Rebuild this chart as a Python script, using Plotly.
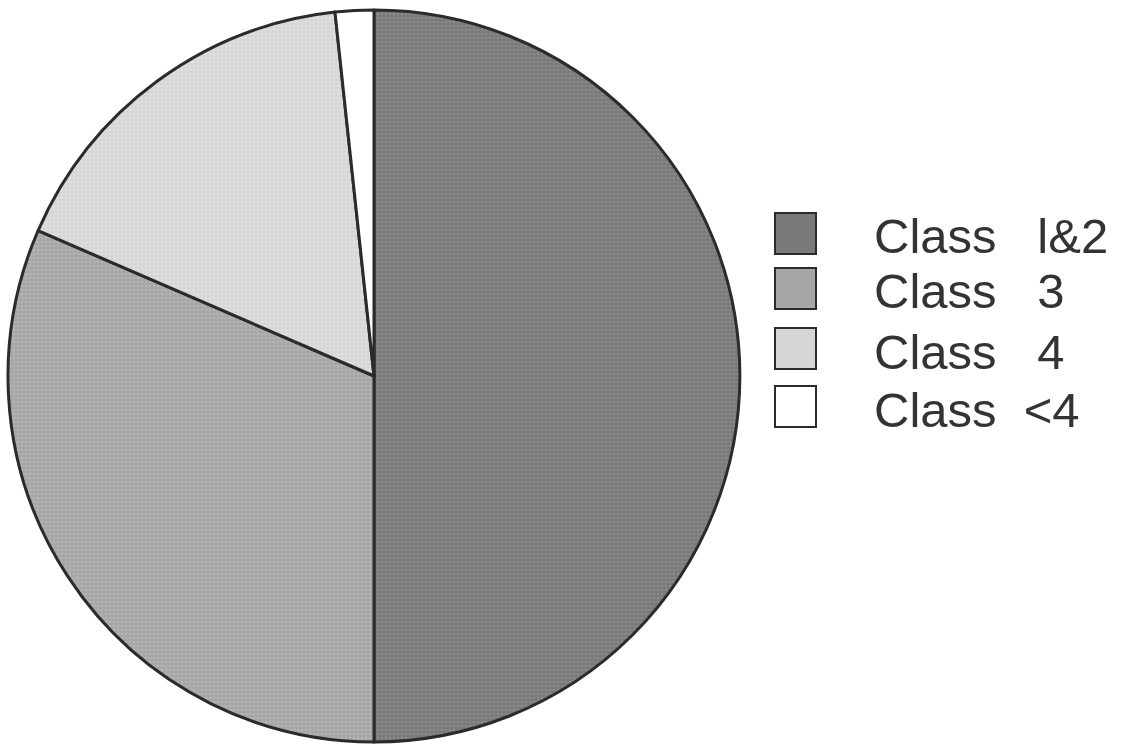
import plotly.graph_objects as go

# Share of each class (percent of total)
classes = ["Class\u00a0\u00a0\u00a0l&2", "Class\u00a0\u00a0\u00a03", "Class\u00a0\u00a0\u00a04", "Class\u00a0\u00a0<4"]
shares = [50.0, 31.5, 16.8, 1.7]

# Halftone-like fills: base gray plus a dot overlay
fill_colors = ["#7a7a7a", "#a6a6a6", "#d6d6d6", "#ffffff"]
dot_colors = ["#9c9c9c", "#c4c4c4", "#ececec", "#ffffff"]
edge_color = "#2b2b2b"

W, H = 1125, 745

fig = go.Figure()
fig.add_trace(go.Pie(
    labels=classes,
    values=shares,
    sort=False,
    direction="clockwise",
    rotation=0,
    textinfo="none",
    hoverinfo="label+percent",
    marker=dict(
        colors=fill_colors,
        line=dict(color=edge_color, width=3),
        pattern=dict(shape=".", fgcolor=dot_colors, bgcolor=fill_colors,
                     size=4, solidity=0.35, fillmode="overlay"),
    ),
    domain=dict(x=[8 / W, 740 / W], y=[1 - 742 / H, 1 - 10 / H]),
    showlegend=False,
))

# Legend: large swatches with labels to their right
sw_left, sw_size = 775, 41
sw_tops = [213, 268, 328, 386]
shapes = []
annotations = []
for name, col, top in zip(classes, fill_colors, sw_tops):
    shapes.append(dict(
        type="rect", xref="paper", yref="paper",
        x0=sw_left / W, x1=(sw_left + sw_size) / W,
        y0=1 - (top + sw_size) / H, y1=1 - top / H,
        fillcolor=col, line=dict(color=edge_color, width=2),
    ))
    annotations.append(dict(
        text=name, xref="paper", yref="paper",
        x=872 / W, y=1 - (top + sw_size / 2 + 3) / H,
        xanchor="left", yanchor="middle", showarrow=False,
        font=dict(family="Liberation Sans, Arial, sans-serif", size=49, color="#333333"),
    ))

fig.update_layout(
    width=W, height=H,
    margin=dict(l=0, r=0, t=0, b=0),
    paper_bgcolor="white",
    plot_bgcolor="white",
    shapes=shapes,
    annotations=annotations,
)

fig.write_html("out.html")
